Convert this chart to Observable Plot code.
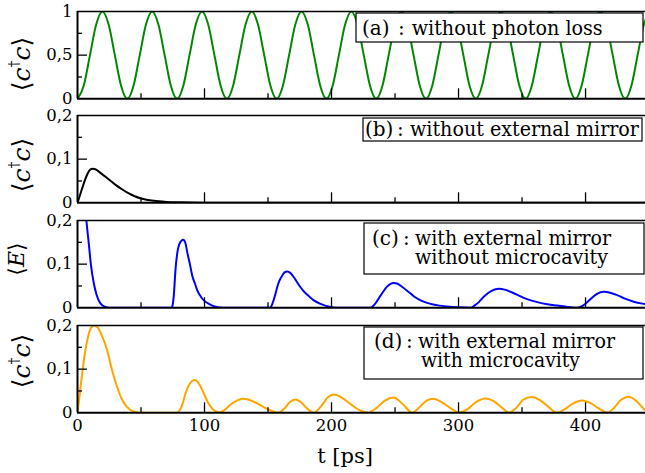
<!DOCTYPE html>
<html><head><meta charset="utf-8">
<script src="https://cdn.jsdelivr.net/npm/d3@7"></script>
<script src="https://cdn.jsdelivr.net/npm/@observablehq/plot@0.6"></script>
<style>
body{margin:0;background:#fff;}
#chart{position:relative;width:645px;height:473px;overflow:hidden;background:#fff;}
#chart svg{position:absolute;left:0;}
#chart text{font-family:"DejaVu Serif","Liberation Serif",serif;}
</style></head><body><div id="chart"></div>
<script>
// ---- data ----
// (a) without photon loss
const tA = [0,4.9,9.8,14.7,19.6,24.5,29.4,34.3,39.2,44.1,49,53.9,58.8,63.7,68.6,73.5,78.4,83.3,88.2,93.1,98,102.9,107.8,112.7,117.6,122.5,127.4,132.3,137.2,142.1,147,151.9,156.8,161.7,166.6,171.5,176.4,181.3,186.2,191.1,196,200.9,205.8,210.7,215.6,220.5,225.4,230.3,235.2,240.1,245,249.9,254.8,259.7,264.6,269.5,274.4,279.3,284.2,289.1,294,298.9,303.8,308.7,313.6,318.5,323.4,328.3,333.2,338.1,343,347.9,352.8,357.7,362.6,367.5,372.4,377.3,382.2,387.1,392,396.9,401.8,406.7,411.6,416.5,421.4,426.3,431.2,436.1,441,445.9,450.8];
const yA = [0,.15,.5,.85,1,.85,.5,.15, 0,.15,.5,.85,1,.85,.5,.15, 0,.15,.5,.85,1,.85,.5,.15, 0,.15,.5,.85,1,.85,.5,.15,
            0,.15,.5,.85,1,.85,.5,.15, 0,.15,.5,.85,1,.85,.5,.15, 0,.15,.5,.85,1,.85,.5,.15, 0,.15,.5,.85,1,.85,.5,.15,
            0,.15,.5,.85,1,.85,.5,.15, 0,.15,.5,.85,1,.85,.5,.15, 0,.15,.5,.85,1,.85,.5,.15, 0,.15,.5,.85,1];
// (b) without external mirror
const tB = [0,2,4,6,8,10,12,14,16,20,25,30,35,40,45,50,60,70,80,100,150,447];
const yB = [0,0.018,0.036,0.053,0.067,0.076,0.078,0.077,0.073,0.064,0.053,0.041,0.031,0.022,0.015,0.010,0.0045,0.002,0.001,0.0002,0,0];
// (c) with external mirror, without microcavity
const tC = [0,3,5,7,8.9,10.5,12.9,15,18,22,27,74,
            74.8,75.8,77.2,79.1,81.3,83.2,85,86.4,88.5,90.3,92.5,94.3,97,99.5,103.4,108,115,151.5,
            153.4,155.5,157.2,159,161.2,163,165.2,167.5,170.4,173,175.6,178,180.9,183.5,186.1,191.3,199.2,206,230.5,
            234,238.6,243.9,246.5,249,252,256,260,265,271,278,285,291,300,309.4,
            313,316,320,326,331.8,337,346,354,362,370,378,386,393.5,
            398,404,409,414.4,420,425,430,438,446,452];
const yC = [0.6,0.38,0.28,0.2,0.147,0.1,0.055,0.03,0.01,0.002,0,0,
            0.005,0.028,0.089,0.135,0.152,0.156,0.148,0.127,0.1,0.074,0.055,0.04,0.026,0.017,0.009,0.003,0,0,
            0.009,0.028,0.047,0.062,0.074,0.081,0.083,0.08,0.07,0.058,0.047,0.038,0.03,0.023,0.017,0.009,0.002,0,0,
            0.008,0.028,0.049,0.055,0.057,0.055,0.047,0.038,0.026,0.016,0.009,0.005,0.003,0.001,0,
            0.006,0.013,0.026,0.039,0.0435,0.041,0.03,0.02,0.013,0.008,0.005,0.002,0,
            0.005,0.02,0.032,0.0367,0.034,0.029,0.022,0.014,0.009,0.006];
// (d) with external mirror, with microcavity
const tD = [0,2.4,5,8.9,11,13.6,16,19,23.4,27,31.2,35,39.1,44,50,78,
            80,82.5,85,88,92.4,96,99.5,103,107,112,
            116,121,125.5,130,135,140,145,150,155,158.5,
            163,167,171.7,176,180,186,
            192,197,202,208,215,222,228.5,
            235,242,249,256,263.5,
            269,275,280,287,294,300.8,
            307,314,321,327,334,340,
            345,351,357.5,364,371,377.7,
            383,390,397.4,404,411,417.5,
            422,428,434,440,447,452];
const yD = [0,0.059,0.12,0.181,0.196,0.2,0.195,0.178,0.143,0.1,0.059,0.031,0.013,0.003,0,0,
            0.004,0.018,0.044,0.065,0.075,0.065,0.044,0.022,0.007,0.001,
            0.007,0.02,0.028,0.032,0.03,0.024,0.016,0.008,0.002,0.0005,
            0.01,0.024,0.0305,0.024,0.012,0.0005,
            0.016,0.035,0.042,0.035,0.02,0.006,0.0005,
            0.01,0.028,0.035,0.02,0.0005,
            0.012,0.028,0.032,0.024,0.01,0.0005,
            0.008,0.025,0.033,0.028,0.012,0.0005,
            0.01,0.03,0.036,0.029,0.013,0.0005,
            0.007,0.021,0.028,0.022,0.009,0.0005,
            0.01,0.03,0.037,0.027,0.006,0];

const xLabels = [0,100,200,300,400];
const xMajor = [100,200,300,400];
const xMinor = [50,150,250,350];
const yLabelsA = [0,0.5,1], yMajorA = [0.5], yMinorA = [0.25,0.75];
const yLabelsS = [0,0.1,0.2], yMajorS = [0.1], yMinorS = [0.05,0.15];

const colors = ["#008800","#000000","#0000ff","#ffa500"];
const panelTops = [10.7,115,220,325];
const innerH = 87.3, mt = 14;
const W = 645, ML = 77, xMax = 447.2;
const serif = '"DejaVu Serif","Liberation Serif",serif';

const zip = (t,v) => t.map((d,i) => ({t:d, v:v[i]}));
const series = [zip(tA,yA), zip(tB,yB), zip(tC,yC), zip(tD,yD)];
const chart = document.getElementById("chart");

series.forEach((data, i) => {
  const isA = i === 0, last = i === 3;
  const ydom = isA ? [0,1] : [0,0.2];
  const mb = last ? 61 : 8;
  const innerW = W - ML;
  const p = Plot.plot({
    width: W, height: mt + innerH + mb,
    marginLeft: ML, marginRight: 0, marginTop: mt, marginBottom: mb,
    x: {domain: [0,xMax], axis: null},
    y: {domain: ydom, axis: null},
    style: {background:"transparent", overflow:"visible", fontFamily: serif, fontSize:"16.5px", color:"#000"},
    marks: [
      Plot.line(data, {x:"t", y:"v", stroke: colors[i], strokeWidth: 2, curve: "monotone-x", clip: true}),
      Plot.ruleX(xMajor, {stroke:"#000", strokeWidth:1.3, insetTop: innerH - 10}),
      Plot.ruleX(xMinor, {stroke:"#000", strokeWidth:1.3, insetTop: innerH - 5}),
      Plot.ruleY(isA ? yMajorA : yMajorS, {stroke:"#000", strokeWidth:1.3, insetRight: innerW - 10}),
      Plot.ruleY(isA ? yMinorA : yMinorS, {stroke:"#000", strokeWidth:1.3, insetRight: innerW - 5}),
      Plot.ruleY([ydom[0]], {stroke:"#000", strokeWidth:2}),
      Plot.ruleY([ydom[1]], {stroke:"#000", strokeWidth:1.5}),
      Plot.ruleX([0], {stroke:"#000", strokeWidth:2}),
      Plot.axisY(isA ? yLabelsA : yLabelsS, {anchor:"left", tickSize:0, tickPadding:5, label:null,
        fontSize: 16.5, tickFormat: d => String(d).replace(".", ",")}),
      last ? Plot.axisX(xLabels, {anchor:"bottom", tickSize:0, tickPadding:6, label:null, fontSize:16.5}) : null
    ]
  });
  p.style.position = "absolute";
  p.style.left = "0px";
  p.style.top = (panelTops[i] - mt) + "px";
  chart.appendChild(p);
});

// ---- overlay text: axis titles and panel captions ----
const ov = d3.select(chart).append("svg")
  .attr("width", W).attr("height", 473)
  .style("position","absolute").style("top","0px").style("left","0px");

const boxes = [
  {x:356, y:13, w:287, h:29},
  {x:363, y:118, w:279, h:23},
  {x:364, y:223, w:280, h:51},
  {x:364, y:327, w:279, h:52}
];
ov.selectAll("rect.box").data(boxes).join("rect")
  .attr("x", d=>d.x).attr("y", d=>d.y).attr("width", d=>d.w).attr("height", d=>d.h)
  .attr("fill","#fff").attr("stroke","#000").attr("stroke-width",1.2);

const captions = [
  {s:"(a)", x:362, y:35}, {s:":", x:398, y:35}, {s:"without photon loss", x:411.7, y:35, len:191},
  {s:"(b)", x:365, y:136}, {s:":", x:397, y:136}, {s:"without external mirror", x:410, y:136, len:229},
  {s:"(c)", x:372, y:245}, {s:":", x:403, y:245}, {s:"with external mirror", x:415, y:245, len:196},
  {s:"without microcavity", x:415, y:263.5, len:193},
  {s:"(d)", x:374, y:348}, {s:":", x:406, y:348}, {s:"with external mirror", x:418, y:348, len:197},
  {s:"with microcavity", x:421, y:367, len:159}
];
captions.forEach(c => {
  const t = ov.append("text").attr("x", c.x).attr("y", c.y).attr("font-size", 20).text(c.s);
  if (c.len) t.attr("textLength", c.len).attr("lengthAdjust", "spacingAndGlyphs");
});

// y axis titles
function ccLabel(cx, cy) {
  const t = ov.append("text").attr("transform", `translate(${cx},${cy}) rotate(-90)`)
    .attr("text-anchor","middle").attr("font-size", 25);
  t.append("tspan").text("\u27E8");
  t.append("tspan").attr("font-style","italic").text("c");
  t.append("tspan").attr("font-size", 14).attr("dy", -11).text("\u2020");
  t.append("tspan").attr("font-style","italic").attr("dy", 11).text("c");
  t.append("tspan").text("\u27E9");
}
ccLabel(30, 64);
ccLabel(30, 165);
ccLabel(30, 361);
{
  const t = ov.append("text").attr("transform", "translate(24,259) rotate(-90)")
    .attr("text-anchor","middle").attr("font-size", 22);
  t.append("tspan").text("\u27E8");
  t.append("tspan").attr("font-style","italic").text("E");
  t.append("tspan").text("\u27E9");
}
// x axis title
ov.append("text").attr("x", 345).attr("y", 463).attr("text-anchor","middle").attr("font-size", 21).text("t [ps]");
</script></body></html>
